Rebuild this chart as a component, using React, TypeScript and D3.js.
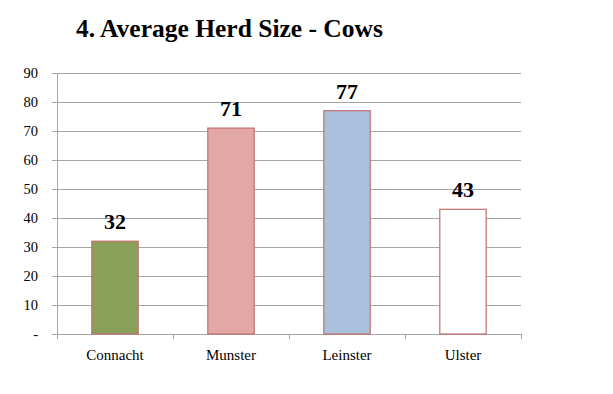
import React from "react";
import * as d3 from "d3";

const categories = ["Connacht", "Munster", "Leinster", "Ulster"];
const values = [32, 71, 77, 43];
const fills = ["#8aa05a", "#e3a8a6", "#a9c1dc", "#ffffff"];
const yTicks = [0, 10, 20, 30, 40, 50, 60, 70, 80, 90];
const title = "4. Average Herd Size - Cows";

export default function App() {
  const W = 613, H = 394;
  const left = 57, right = 521, top = 73, bottom = 334;
  const x = d3.scaleBand<string>().domain(categories).range([left, right]).paddingInner(0.6).paddingOuter(0.3);
  const xc = d3.scaleBand<string>().domain(categories).range([left, right]);
  const y = d3.scaleLinear().domain([0, 90]).range([bottom, top]);
  const font = "'Liberation Serif', 'DejaVu Serif', serif";
  return (
    <svg width={W} height={H} style={{ position: "absolute", left: 0, top: 0 }} fontFamily={font}>
      <rect width={W} height={H} fill="#fff" />
      <text x={76} y={37} fontSize={25.5} fontWeight="bold" fill="#000">{title}</text>
      {yTicks.map((t) => (
        <g key={t}>
          <line x1={left - 5} x2={right} y1={Math.round(y(t)) + 0.5} y2={Math.round(y(t)) + 0.5} stroke="#a6a6a6" strokeWidth={1} />
          <text x={38} y={y(t) + 5} fontSize={14.5} textAnchor="end" fill="#000">{t === 0 ? "-" : t}</text>
        </g>
      ))}
      <line x1={left + 0.5} x2={left + 0.5} y1={top} y2={bottom + 5} stroke="#a6a6a6" />
      {categories.map((c) => (
        <line key={"t" + c} x1={Math.round(xc(c)! + xc.bandwidth()) + 0.5} x2={Math.round(xc(c)! + xc.bandwidth()) + 0.5} y1={bottom} y2={bottom + 5} stroke="#a6a6a6" />
      ))}
      {categories.map((c, i) => (
        <g key={c}>
          <rect x={x(c)!} y={y(values[i])} width={x.bandwidth()} height={bottom - y(values[i])} fill={fills[i]} stroke="#c0706c" strokeWidth={1.2} />
          <text x={x(c)! + x.bandwidth() / 2} y={y(values[i]) - 12} fontSize={22} fontWeight="bold" textAnchor="middle" fill="#000">{values[i]}</text>
          <text x={xc(c)! + xc.bandwidth() / 2} y={360} fontSize={15} textAnchor="middle" fill="#000">{c}</text>
        </g>
      ))}
    </svg>
  );
}
